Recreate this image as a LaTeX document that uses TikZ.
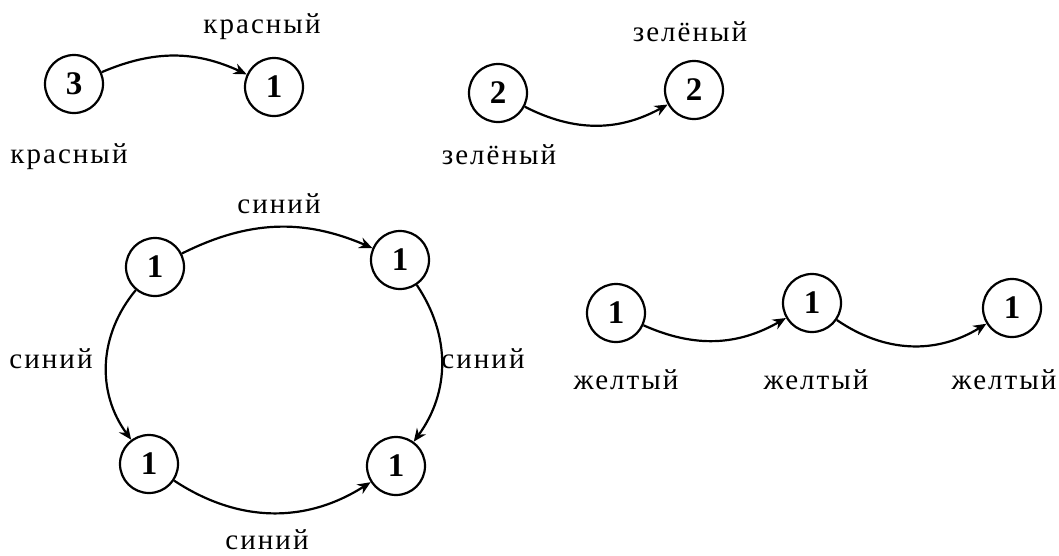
\documentclass[tikz,border=0pt]{standalone}
\usepackage{fontspec}
\setmainfont{Liberation Serif}
\newfontfamily\spacedfont[LetterSpace=7]{Liberation Serif}
\usetikzlibrary{arrows.meta}
\tikzset{
	vertex/.style={draw, circle, line width=2.2pt, minimum size=58pt, inner sep=0pt, font=\fontsize{33}{36}\selectfont\bfseries},
	colour/.style={anchor=base, inner sep=0pt, font=\fontsize{29}{32}\spacedfont},
	edge/.style={line width=2.2pt, -{Stealth[length=13pt, width=11pt]}}
}

\begin{document}
\begin{tikzpicture}[x=1pt, y=-1pt]
			%%%%% START %%%%%
			\useasboundingbox (0, 0) rectangle (1059, 555);
			
			% red
			\node[vertex] (r1) at (74, 84) {3};
			\node[vertex] (r2) at (274, 87) {1};
			\node[colour] (rl1) at (69, 163) {красный};
			\node[colour] (rl2) at (262, 33) {красный};
			\draw[edge] (r1) to[bend left=24] (r2);
			
			% green
			\node[vertex] (g1) at (498, 93) {2};
			\node[vertex] (g2) at (694, 90) {2};
			\node[colour] (gl1) at (499, 164) {зелёный};
			\node[colour] (gl2) at (690, 41) {зелёный};
			\draw[edge] (g1) to[bend right=28] (g2);
			
			% blue
			\node[vertex] (b1) at (155, 267) {1};
			\node[vertex] (b2) at (400, 260) {1};
			\node[vertex] (b3) at (149, 464) {1};
			\node[vertex] (b4) at (396, 466) {1};
			\node[colour] (bl1) at (279, 213) {синий};
			\node[colour] (bl2) at (51, 368) {синий};
			\node[colour] (bl3) at (483, 368) {синий};
			\node[colour] (bl4) at (267, 549) {синий};
			\draw[edge] (b1) to[bend left=25] (b2);
			\draw[edge] (b1) to[bend right=38] (b3);
			\draw[edge] (b2) to[bend left=35] (b4);
			\draw[edge] (b3) to[bend right=33] (b4);
			
			% yellow
			\node[vertex] (y1) at (616, 313) {1};
			\node[vertex] (y2) at (812, 303) {1};
			\node[vertex] (y3) at (1012, 308) {1};
			\node[colour] (yl1) at (626, 389) {желтый};
			\node[colour] (yl2) at (816, 389) {желтый};
			\node[colour] (yl3) at (1004, 389) {желтый};
			\draw[edge] (y1) to[bend right=27] (y2);
			\draw[edge] (y2) to[bend right=33] (y3);
			%%%%% END %%%%%
		\end{tikzpicture}
\end{document}
